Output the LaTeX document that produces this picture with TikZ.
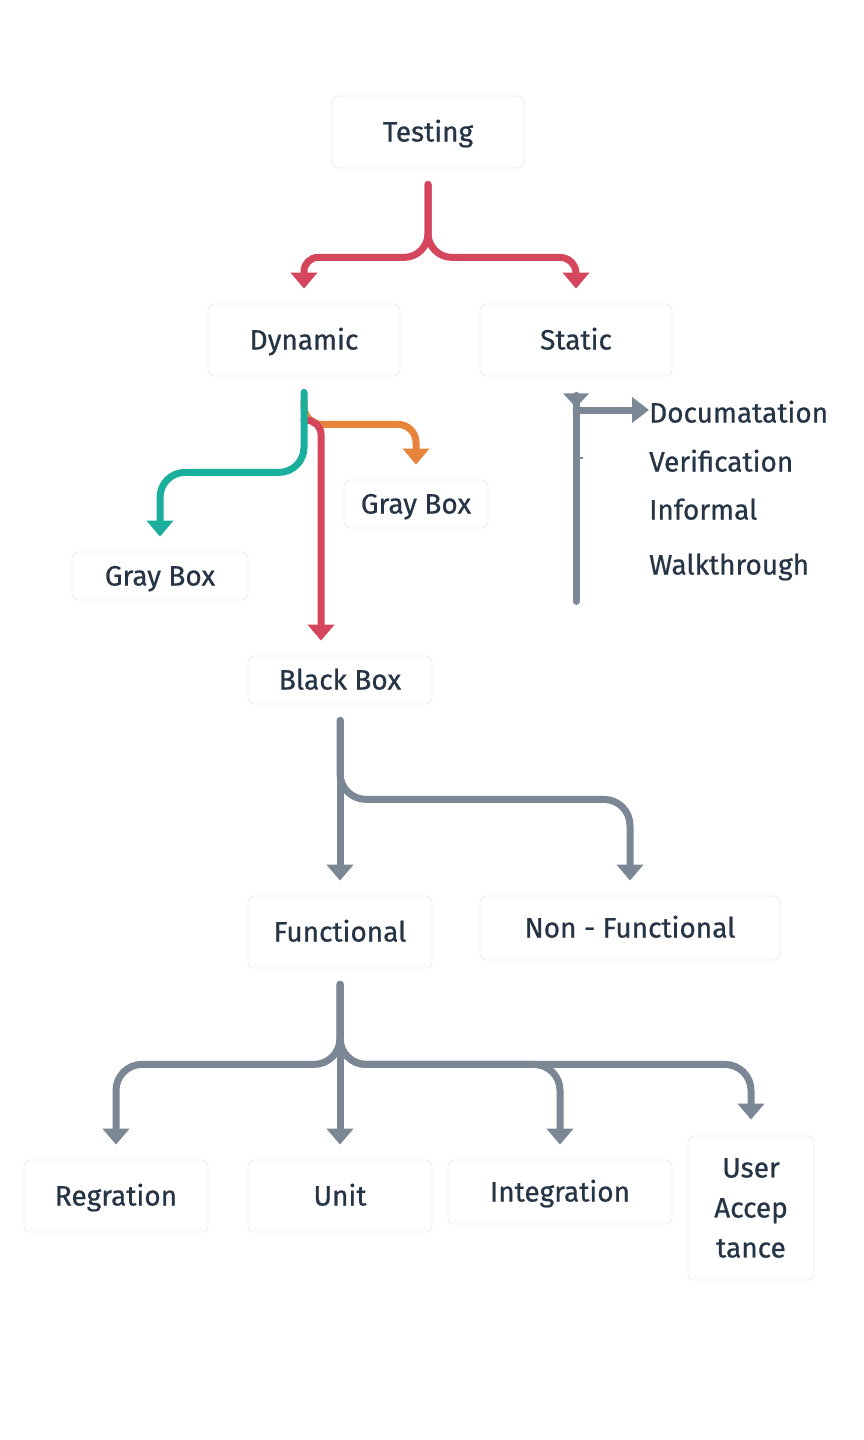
\documentclass[tikz,border=0pt]{standalone}
\usepackage{fontspec}
\setmainfont{Fira Sans}[FakeBold=0.7]
\usetikzlibrary{arrows.meta}
\definecolor{txt}{HTML}{263545}
\definecolor{cred}{HTML}{D5455B}
\definecolor{cteal}{HTML}{1AAE9C}
\definecolor{corange}{HTML}{E8833A}
\definecolor{cgray}{HTML}{7B8794}
\definecolor{edge}{HTML}{EDEDED}
\begin{document}
\begin{tikzpicture}[x=1pt,y=-1pt,
  lbl/.style={text=txt, font=\fontsize{28}{40}\selectfont},
  box/.style={lbl, draw=edge, line width=0.8pt, fill=white, rounded corners=6pt, inner sep=0pt, text height=19pt, text depth=0pt},
  item/.style={lbl, inner sep=0pt, anchor=west, text height=19pt, text depth=0pt},
  conn/.style={line width=7pt, line cap=round, -{Triangle[width=26pt,length=16pt]}},
]
\fill[white] (0,0) rectangle (863,1440);
\useasboundingbox (0,0) rectangle (863,1440);

% nodes
\node[box, minimum width=192pt, minimum height=72pt] (testing) at (428,132) {Testing};
\node[box, minimum width=192pt, minimum height=72pt] (dynamic) at (304,340) {Dynamic};
\node[box, minimum width=192pt, minimum height=72pt] (static) at (576,340) {Static};
\node[box, minimum width=176pt, minimum height=48pt] (grayl) at (160,576) {Gray Box};
\node[box, minimum width=144pt, minimum height=48pt] (grayr) at (416,504) {Gray Box};
\node[box, minimum width=184pt, minimum height=48pt] (black) at (340,680) {Black Box};
\node[box, minimum width=184pt, minimum height=72pt] (functional) at (340,932) {Functional};
\node[box, minimum width=300pt, minimum height=64pt] (nonf) at (630,928) {Non - Functional};
\node[box, minimum width=184pt, minimum height=72pt] (reg) at (116,1196) {Regration};
\node[box, minimum width=184pt, minimum height=72pt] (unit) at (340,1196) {Unit};
\node[box, minimum width=224pt, minimum height=64pt] (integ) at (560,1192) {Integration};
\node[box, minimum width=126pt, minimum height=144pt, align=center, text height=, text depth=] (ua) at (751,1208) {User\\Accep\\tance};

\node[item] (doc) at (649,413) {Documatation};
\node[item] (ver) at (649,462) {Verification};
\node[item] (inf) at (649,510) {Informal};
\node[item] (walk) at (649,565) {Walkthrough};

% start points
\coordinate (t0) at ([yshift=-16pt]testing.south);
\coordinate (d0) at ([yshift=-16pt]dynamic.south);
\coordinate (d1) at ([yshift=-24pt]dynamic.south);
\coordinate (d2) at ([yshift=-44pt]dynamic.south);
\coordinate (s0) at ([yshift=-19pt]static.south);
\coordinate (b0) at ([yshift=-16pt]black.south);
\coordinate (f0) at ([yshift=-16pt]functional.south);

% Testing -> Dynamic / Static
\draw[conn, cred] (t0) [rounded corners=24pt] -- ++(0,73) [rounded corners=14pt] -| ([yshift=15pt]dynamic.north);
\draw[conn, cred] (t0) [rounded corners=24pt] -- ++(0,73) [rounded corners=16pt] -| ([yshift=15pt]static.north);

% Dynamic -> children
\draw[conn, corange, rounded corners=18pt] (d1) -- ++(0,24) -| ([yshift=15pt]grayr.north);
\draw[conn, cred, rounded corners=14pt] (d2) -| ([yshift=15pt]black.north -| 321,0);
\draw[conn, cteal, rounded corners=25pt] (d0) -- ++(0,80) -| ([yshift=15pt]grayl.north);

% Static -> list
\draw[cgray, line width=7pt, line cap=round] (s0) -- ++(0,206);
\fill[cgray] ([xshift=-13pt,yshift=-17pt]static.south) -- ++(26,0) -- ++(-13,14) -- cycle;
\draw[conn, cgray, -{Triangle[width=25pt,length=17pt]}] (s0 |- 0,410) -- ([yshift=3pt]doc.west);
\draw[cgray, line width=2pt] (579,458) -- (583,458);

% Black Box -> Functional / Non-Functional
\draw[conn, cgray] (b0) -- ([yshift=15pt]functional.north);
\draw[conn, cgray, rounded corners=26pt] (b0) -- ++(0,79) -| ([yshift=15pt]nonf.north);

% Functional -> bottom row
\draw[conn, cgray] (f0) -- ([yshift=15pt]unit.north);
\draw[conn, cgray, rounded corners=26pt] (f0) -- ++(0,80) -| ([yshift=15pt]reg.north);
\draw[conn, cgray, rounded corners=26pt] (f0) -- ++(0,80) -| ([yshift=15pt]integ.north);
\draw[conn, cgray, rounded corners=26pt] (f0) -- ++(0,80) -| ([yshift=16pt]ua.north);
\end{tikzpicture}
\end{document}
